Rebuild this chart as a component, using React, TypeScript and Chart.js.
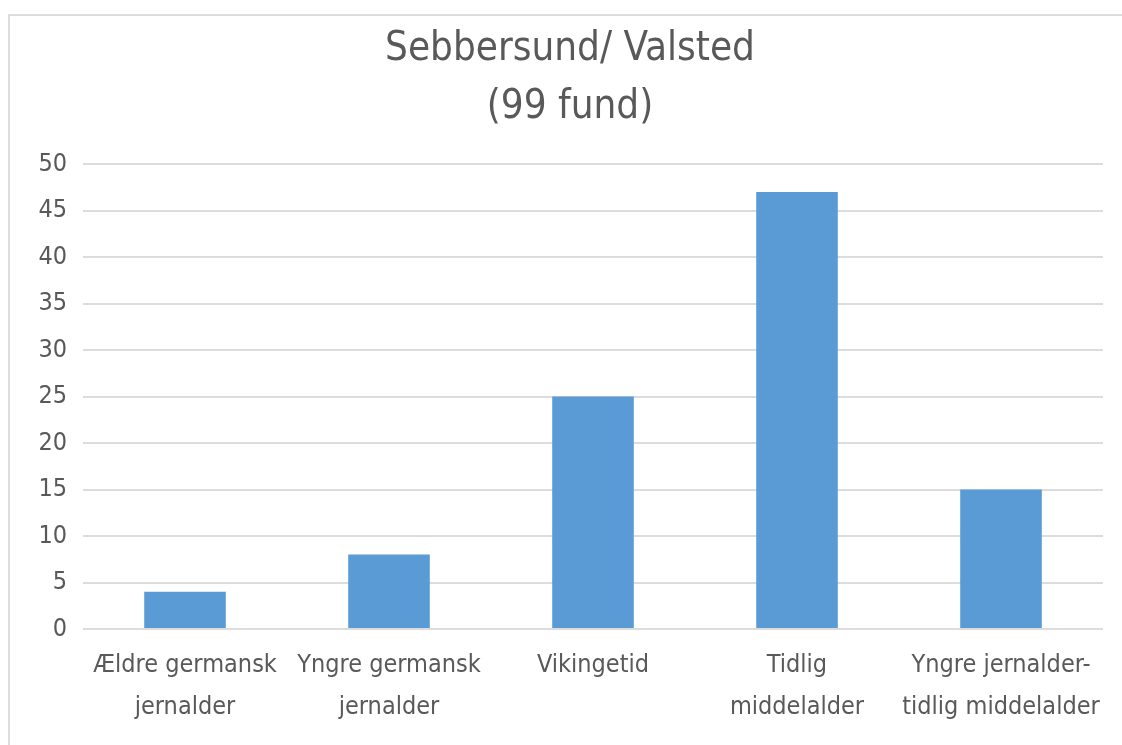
import React, { useEffect, useRef } from "react";
import { Chart, registerables } from "chart.js";

Chart.register(...registerables);

const categories: string[][] = [
  ["Ældre germansk", "jernalder"],
  ["Yngre germansk", "jernalder"],
  ["Vikingetid"],
  ["Tidlig", "middelalder"],
  ["Yngre jernalder-", "tidlig middelalder"],
];
const counts: number[] = [4, 8, 25, 47, 15];
const titleLines: string[] = ["Sebbersund/ Valsted", "(99 fund)"];

const FONT = "'Liberation Sans Narrow', 'DejaVu Sans Condensed', Roboto, sans-serif";
const TEXT = "#595959";

export default function App() {
  const ref = useRef<HTMLCanvasElement>(null);
  useEffect(() => {
    if (!ref.current) return;
    const chart = new Chart(ref.current, {
      type: "bar",
      data: {
        labels: categories,
        datasets: [
          {
            data: counts,
            backgroundColor: "#5b9bd5",
            categoryPercentage: 1,
            barPercentage: 0.4,
          },
        ],
      },
      options: {
        responsive: false,
        animation: false,
        layout: { padding: { left: 27, right: 19, top: 0, bottom: 2 } },
        plugins: {
          legend: { display: false },
          tooltip: { enabled: false },
          title: {
            display: true,
            text: titleLines,
            color: TEXT,
            font: { family: FONT, size: 40, weight: "normal", lineHeight: 1.45 },
            padding: { top: 5, bottom: 27 },
          },
        },
        scales: {
          x: {
            grid: { display: false, drawTicks: false },
            border: { display: false },
            ticks: {
              color: TEXT,
              font: { family: FONT, size: 25, lineHeight: 1.68 },
              padding: 15,
              maxRotation: 0,
              autoSkip: false,
            },
          },
          y: {
            min: 0,
            max: 50,
            afterFit: (s: any) => {
              s.width = 46;
            },
            grid: { color: "#dcdcdc", lineWidth: 2, drawTicks: false },
            border: { display: false },
            ticks: {
              stepSize: 5,
              color: TEXT,
              font: { family: FONT, size: 25 },
              padding: 16,
            },
          },
        },
      },
    });
    return () => chart.destroy();
  }, []);
  return (
    <div
      style={{
        position: "absolute",
        left: 8,
        top: 14,
        width: 1114,
        height: 731,
        borderTop: "2px solid #dcdcdc",
        borderLeft: "2px solid #dcdcdc",
        background: "#fff",
      }}
    >
      <canvas ref={ref} width={1112} height={729} style={{ display: "block" }} />
    </div>
  );
}
